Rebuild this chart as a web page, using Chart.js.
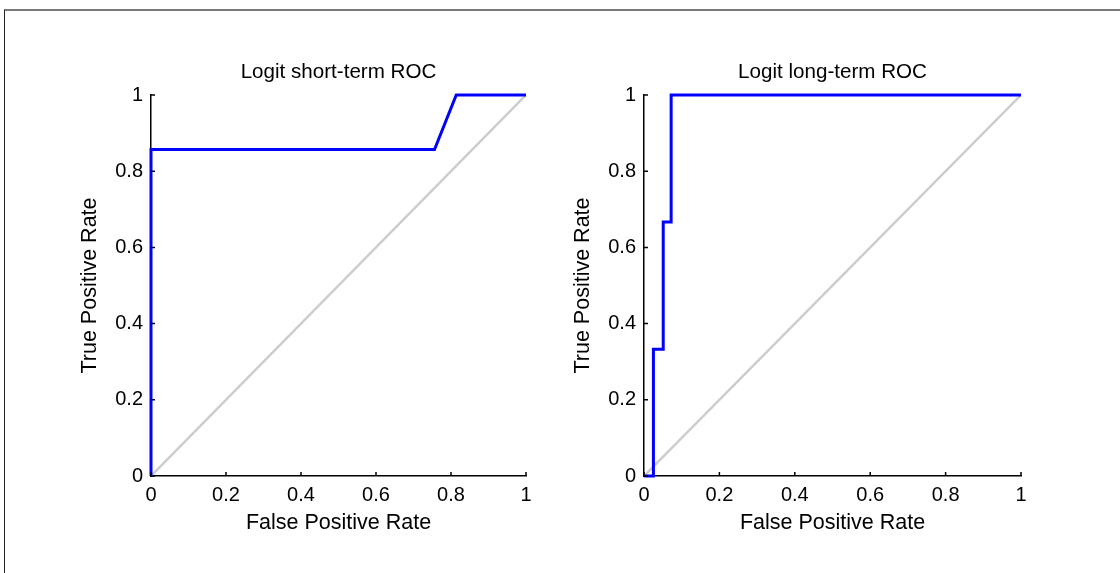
<!doctype html>
<html lang="en">
<head>
<meta charset="utf-8">
<title>Logit ROC</title>
<script src="https://cdn.jsdelivr.net/npm/chart.js"></script>
<style>
body { margin: 0; background: #fff; }
#wrap { position: relative; width: 1120px; height: 573px; overflow: hidden; }
#frame { position: absolute; left: 4px; top: 9px; width: 1200px; height: 700px;
  border-top: 2px solid #7a7a7a; border-left: 1px solid #222; }
canvas { position: absolute; top: 0; }
</style>
<script>
// short-term ROC
const shortFpr = [0, 0, 0.756, 0.814, 1];
const shortTpr = [0, 0.857, 0.857, 1, 1];
// long-term ROC
const longFpr = [0, 0.025, 0.025, 0.051, 0.051, 0.072, 0.072, 1];
const longTpr = [0, 0, 0.333, 0.333, 0.667, 0.667, 1, 1];
// chance line
const diagX = [0, 1];
const diagY = [0, 1];
const tickValues = [0, 0.2, 0.4, 0.6, 0.8, 1];

const FONT = "'Liberation Sans', Arial, sans-serif";

function toPoints(xs, ys) {
	let pts = [];
	for (let i = 0; i < xs.length; i++) {
		pts.push({x: xs[i], y: ys[i]});
	}
	return pts;
}

// MATLAB style ticks pointing into the plot
const innerTicks = {
	id: 'innerTicks',
	afterDatasetsDraw(chart) {
		const ctx = chart.ctx;
		const area = chart.chartArea;
		const xs = chart.scales.x, ys = chart.scales.y;
		ctx.save();
		ctx.strokeStyle = '#000';
		ctx.lineWidth = 1.5;
		ctx.beginPath();
		tickValues.forEach(function(v) {
			const px = xs.getPixelForValue(v);
			ctx.moveTo(px, area.bottom);
			ctx.lineTo(px, area.bottom - 4);
			const py = ys.getPixelForValue(v);
			ctx.moveTo(area.left, py);
			ctx.lineTo(area.left + 4, py);
		});
		ctx.stroke();
		ctx.restore();
	}
};

function makeChart(id, title, xs, ys, pad) {
	const config = {
		type: 'scatter',
		data: {
			datasets: [{
				data: toPoints(xs, ys),
				showLine: true,
				borderColor: '#0000ff',
				borderWidth: 3,
				pointRadius: 0,
				clip: false
			}, {
				data: toPoints(diagX, diagY),
				showLine: true,
				borderColor: 'rgb(205,205,205)',
				borderWidth: 2.5,
				pointRadius: 0
			}]
		},
		options: {
			responsive: false,
			animation: false,
			events: [],
			layout: { padding: pad },
			plugins: {
				legend: { display: false },
				tooltip: { enabled: false },
				title: {
					display: true,
					fullSize: false,
					text: title,
					color: '#000',
					font: { family: FONT, size: 20.6, weight: 'normal' },
					padding: { top: 60, bottom: 10.3 }
				}
			},
			scales: {
				x: {
					type: 'linear', min: 0, max: 1,
					afterFit: function(s) { s.height = 63.9; },
					afterBuildTicks: function(s) { s.ticks = tickValues.map(v => ({value: v})); },
					grid: { drawOnChartArea: false, drawTicks: false },
					border: { display: true, color: '#000', width: 1.5 },
					ticks: {
						color: '#000', padding: 7,
						font: { family: FONT, size: 20 },
						callback: v => String(Math.round(v * 10) / 10)
					},
					title: {
						display: true, text: 'False Positive Rate', color: '#000',
						font: { family: FONT, size: 21.5 },
						padding: { top: 4, bottom: 4 }
					}
				},
				y: {
					type: 'linear', min: 0, max: 1,
					afterFit: function(s) { s.width = 77.9; },
					afterBuildTicks: function(s) { s.ticks = tickValues.map(v => ({value: v})); },
					grid: { drawOnChartArea: false, drawTicks: false },
					border: { display: true, color: '#000', width: 1.5 },
					ticks: {
						color: '#000', padding: 8,
						font: { family: FONT, size: 20 },
						callback: v => String(Math.round(v * 10) / 10)
					},
					title: {
						display: true, text: 'True Positive Rate', color: '#000',
						font: { family: FONT, size: 21.5 },
						padding: { top: 4, bottom: 4 }
					}
				}
			}
		},
		plugins: [innerTicks]
	};
	return new Chart(document.getElementById(id), config);
}

window.onload = function() {
	makeChart('chartShort', 'Logit short-term ROC', shortFpr, shortTpr,
		{ left: 73.1, right: 34, top: 0, bottom: 33.1 });
	makeChart('chartLong', 'Logit long-term ROC', longFpr, longTpr,
		{ left: 6.1, right: 99, top: 0, bottom: 33.1 });
}
</script>
</head>
<body>
<div id="wrap">
<div id="frame"></div>
<canvas id="chartShort" width="560" height="573" style="left:0px"></canvas>
<canvas id="chartLong" width="560" height="573" style="left:560px"></canvas>
</div>
</body>
</html>
